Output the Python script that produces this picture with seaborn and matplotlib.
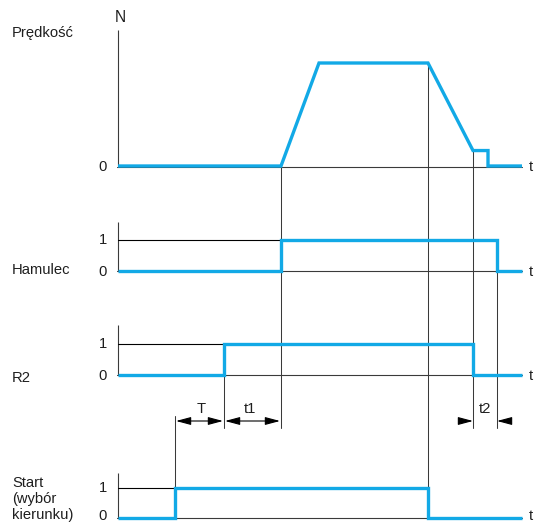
import matplotlib
matplotlib.use("Agg")
import matplotlib.pyplot as plt
import seaborn as sns
import pandas as pd

sns.set_theme(style="white")
plt.rcParams["font.family"] = ["Liberation Sans", "DejaVu Sans"]

# Event times (common time scale for all signals)
start_on = 57
r2_on = 106
run_on = 163
accel_end = 201
start_off = 310
decel_end = 355
low_end = 370
brake_off = 379
t_end = 404

# Speed profile (% of N)
speed_t = [0, run_on, accel_end, start_off, decel_end, low_end, low_end, t_end]
speed_v = [0, 0, 100, 100, 15, 15, 0, 0]

# Digital signals
brake_t = [0, run_on, run_on, brake_off, brake_off, t_end]
brake_v = [0, 0, 1, 1, 0, 0]
r2_t = [0, r2_on, r2_on, decel_end, decel_end, t_end]
r2_v = [0, 0, 1, 1, 0, 0]
start_t = [0, start_on, start_on, start_off, start_off, t_end]
start_v = [0, 0, 1, 1, 0, 0]

panel_labels = ["Prędkość", "Hamulec", "R2", "Start\n(wybór\nkierunku)"]
level_labels = ["0", "1"]
interval_labels = ["T", "t1", "t2"]

W, H = 535, 524
BLUE = "#12a9e6"
INK = "#3a3a3a"
TXT = "#1e1e1e"
FS = 10.6

fig = plt.figure(figsize=(W / 100, H / 100), dpi=100)
X0 = 118  # left edge of the time axis, in pixels

# overlay axes in pixel units for guide lines, arrows and labels
ov = fig.add_axes([0, 0, 1, 1])
ov.set_xlim(-X0, W - X0)
ov.set_ylim(H, 0)
ov.axis("off")


def panel(p0, p1, full):
    """Axes spanning the figure whose level 0 sits at pixel row p0 and level `full` at p1."""
    ax = fig.add_axes([0, 0, 1, 1])
    ax.patch.set_alpha(0)
    ax.set_xlim(-X0, W - X0)
    k = full / (p0 - p1)
    ax.set_ylim((p0 - H) * k, p0 * k)
    ax.axis("off")
    return ax


# (pixel of level 0, pixel of top level, top level value, pixel of axis top)
layout = [
    (166, 63, 100, 30),
    (271, 240, 1, 222),
    (375, 344, 1, 325),
    (518, 488, 1, 473),
]
series = [
    (speed_t, speed_v),
    (brake_t, brake_v),
    (r2_t, r2_v),
    (start_t, start_v),
]


def pix(i, level):
    p0, p1, full, _ = layout[i]
    return p0 - level / full * (p0 - p1)


axes = []
for i, ((p0, p1, full, ptop), (tt, vv)) in enumerate(zip(layout, series)):
    ax = panel(p0, p1, full)
    axes.append(ax)
    k = full / (p0 - p1)
    # vertical axis and time baseline
    ax.plot([0, 0], [0, (p0 - ptop) * k], color=INK, lw=0.8, solid_capstyle="butt")
    ax.plot([-1.5, t_end], [-0.6 * k, -0.6 * k] if i == 0 else [0, 0], color=INK, lw=0.8)
    # level-1 reference line for digital signals
    if i > 0:
        on = tt[1]
        ax.plot([0, on], [1, 1], color="black", lw=0.8)
    df = pd.DataFrame({"t": tt, "v": vv})
    sns.lineplot(data=df, x="t", y="v", sort=False, estimator=None, ax=ax,
                 color=BLUE, lw=2.4, solid_joinstyle="miter", solid_capstyle="butt")
    ax.axis("off")

# level tick labels (the lowest one is nudged up to stay inside the frame)
for i in range(4):
    y0 = pix(i, 0) + 1 if i < 3 else H - 8
    ov.text(103 - X0, y0, level_labels[0], fontsize=FS, ha="center", va="center", color=TXT)
    if i > 0:
        ov.text(103 - X0, pix(i, 1), level_labels[1], fontsize=FS, ha="center", va="center", color=TXT)
ov.text(2, 17, "N", fontsize=FS + 0.6, ha="center", va="center", color=TXT)

# "t" markers at the end of each time axis
for i in range(4):
    yt = pix(i, 0) + 1 if i < 3 else H - 8
    ov.text(W - X0 - 2, yt, "t", fontsize=FS, ha="right", va="center", color=TXT)

# panel labels
ov.text(12 - X0, 33, panel_labels[0], fontsize=FS, ha="left", va="center", color=TXT)
ov.text(12 - X0, 270, panel_labels[1], fontsize=FS, ha="left", va="center", color=TXT)
ov.text(12 - X0, 378, panel_labels[2], fontsize=FS, ha="left", va="center", color=TXT)
ov.text(12 - X0, 499, panel_labels[3], fontsize=FS, ha="left", va="center", color=TXT,
        linespacing=1.2)

# vertical guide lines linking the events across panels
ARR_Y = 421
GUIDE_BOTTOM = 428
guides = [
    (run_on, pix(0, 0), GUIDE_BOTTOM),
    (r2_on, pix(2, 1), GUIDE_BOTTOM),
    (start_on, 416, pix(3, 1)),
    (start_off, pix(0, 100), pix(3, 0)),
    (decel_end, pix(0, 15), GUIDE_BOTTOM),
    (brake_off, pix(1, 1), GUIDE_BOTTOM),
]
for x, y0, y1 in guides:
    ov.plot([x, x], [y0, y1], color=INK, lw=0.75, zorder=0)

# interval arrows
arrow_kw = dict(arrowstyle="<|-|>,head_length=0.75,head_width=0.2", color="black",
                lw=0.8, shrinkA=0, shrinkB=0)
ov.annotate("", xy=(start_on + 1, ARR_Y), xytext=(r2_on - 1, ARR_Y), arrowprops=arrow_kw)
ov.annotate("", xy=(r2_on + 1, ARR_Y), xytext=(run_on - 1, ARR_Y), arrowprops=arrow_kw)
one_kw = dict(arrowstyle="-|>,head_length=0.75,head_width=0.2", color="black",
              lw=0.8, shrinkA=0, shrinkB=0)
ov.annotate("", xy=(decel_end, ARR_Y), xytext=(decel_end - 12, ARR_Y), arrowprops=one_kw)
ov.annotate("", xy=(brake_off, ARR_Y), xytext=(brake_off + 12, ARR_Y), arrowprops=one_kw)

ov.text((start_on + r2_on) / 2 + 2, 409, interval_labels[0], fontsize=FS, ha="center", va="center", color=TXT)
ov.text((r2_on + run_on) / 2 - 3, 409, interval_labels[1], fontsize=FS, ha="center", va="center", color=TXT)
ov.text((decel_end + brake_off) / 2, 409, interval_labels[2], fontsize=FS, ha="center", va="center", color=TXT)

fig.savefig("out.png", dpi=100, facecolor="white")
